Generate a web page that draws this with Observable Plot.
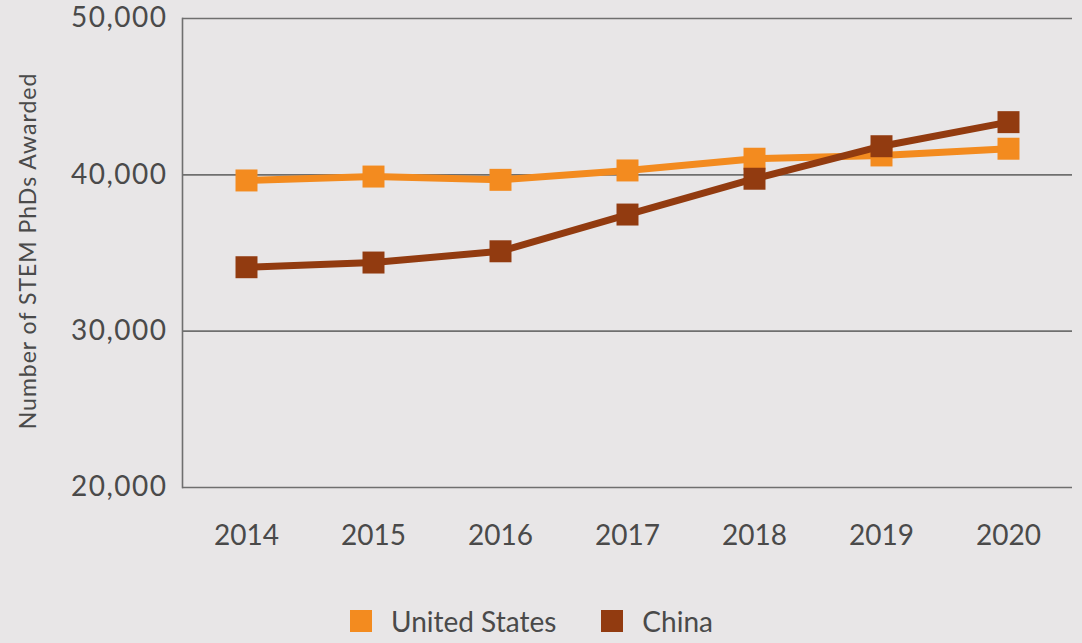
<!DOCTYPE html>
<html>
<head>
<meta charset="utf-8">
<script src="https://cdn.jsdelivr.net/npm/d3@7"></script>
<script src="https://cdn.jsdelivr.net/npm/@observablehq/plot@0.6"></script>
<style>
  html, body { margin: 0; padding: 0; background: #e8e6e7; }
  body { width: 1082px; height: 643px; overflow: hidden; font-family: Lato, "Open Sans", sans-serif; color: #4a4a4a; }
  #legend { position: absolute; left: 350px; top: 602px; height: 38px; display: flex; align-items: center; font-size: 28px; }
  .item { display: flex; align-items: center; margin-right: 45px; }
  .sw { width: 22px; height: 22px; margin-right: 19px; }
  .ytick text { letter-spacing: 1.5px; }
</style>
</head>
<body>
<div id="chart"></div>
<div id="legend"></div>
<script>
const years = [2014, 2015, 2016, 2017, 2018, 2019, 2020];
const seriesNames = ["United States", "China"];
const usValues = [39640, 39890, 39680, 40280, 41030, 41240, 41670];
const chinaValues = [34090, 34390, 35110, 37460, 39750, 41830, 43370];
const yTicks = [20000, 30000, 40000, 50000];
const colors = ["#f38b1f", "#923b10"];

const rows = [];
years.forEach((yr, i) => {
  rows.push({year: yr, value: usValues[i], series: seriesNames[0]});
});
years.forEach((yr, i) => {
  rows.push({year: yr, value: chinaValues[i], series: seriesNames[1]});
});
const us = rows.filter(d => d.series === seriesNames[0]);
const cn = rows.filter(d => d.series === seriesNames[1]);

const fmt = d3.format(",");
const chart = Plot.plot({
  width: 1082,
  height: 570,
  marginLeft: 182,
  marginRight: 10,
  marginTop: 18,
  marginBottom: 83,
  style: {background: "transparent", fontFamily: "Lato, 'Open Sans', sans-serif", color: "#4a4a4a"},
  x: {type: "point", domain: years, padding: 0.5},
  y: {domain: [20000, 50000]},
  color: {domain: seriesNames, range: colors},
  marks: [
    Plot.ruleY(yTicks, {stroke: "#6f6f6f", strokeWidth: 1.6}),
    Plot.frame({anchor: "left", stroke: "#6f6f6f", strokeWidth: 1.6}),
    Plot.axisY({ticks: yTicks, tickFormat: fmt, tickSize: 0, tickPadding: 15, fontSize: 28, fill: "#4a4a4a", label: null, className: "ytick"}),
    Plot.axisX({tickSize: 0, tickPadding: 38, tickFormat: d => String(d), fontSize: 28, fill: "#4a4a4a", label: null}),
    Plot.text(["Number of STEM PhDs Awarded"], {frameAnchor: "left", textAnchor: "middle", lineAnchor: "middle", rotate: -90, dx: -154, dy: -2, fontSize: 23, fill: "#4a4a4a", className: "ylabel"}),
    Plot.line(us, {x: "year", y: "value", stroke: colors[0], strokeWidth: 7}),
    Plot.dot(us, {x: "year", y: "value", symbol: "square", r: 12.4, fill: colors[0], stroke: null}),
    Plot.line(cn, {x: "year", y: "value", stroke: colors[1], strokeWidth: 7}),
    Plot.dot(cn, {x: "year", y: "value", symbol: "square", r: 12.4, fill: colors[1], stroke: null})
  ]
});
document.getElementById("chart").appendChild(chart);
const lbl = chart.querySelector(".ylabel text");
if (lbl) lbl.style.letterSpacing = "1px";

const legend = document.getElementById("legend");
seriesNames.forEach((name, i) => {
  const item = document.createElement("div");
  item.className = "item";
  const sw = document.createElement("div");
  sw.className = "sw";
  sw.style.background = colors[i];
  const label = document.createElement("span");
  label.textContent = name;
  item.appendChild(sw);
  item.appendChild(label);
  legend.appendChild(item);
});
</script>
</body>
</html>
